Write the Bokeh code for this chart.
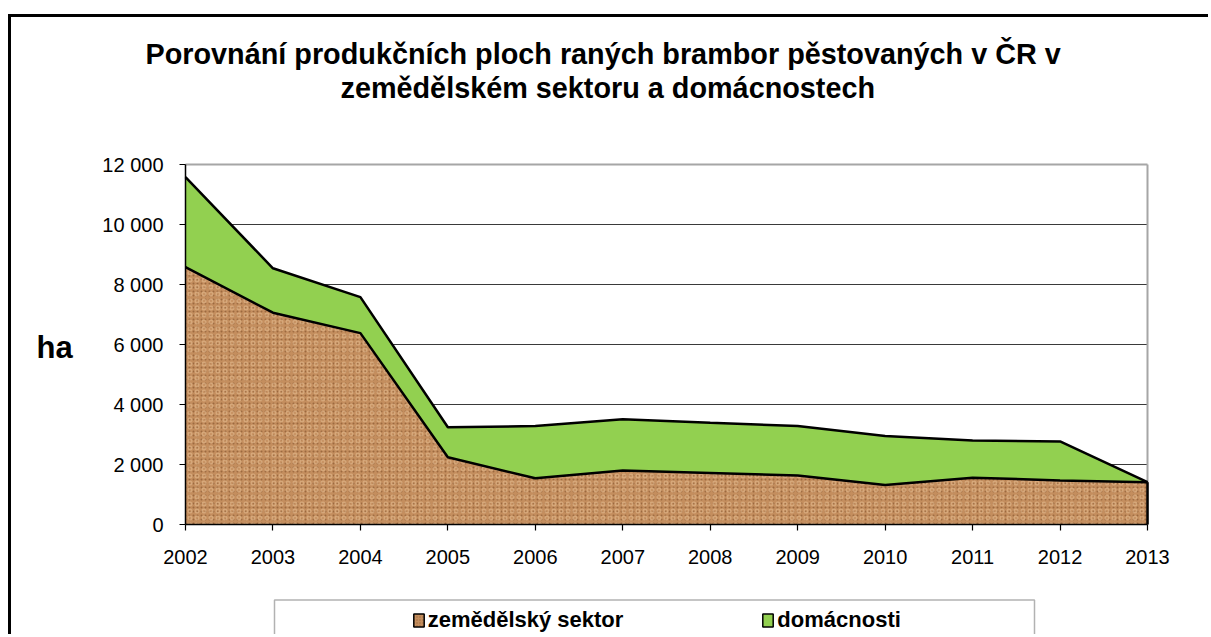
from bokeh.plotting import figure
from bokeh.models import (Range1d, FixedTicker, Title, Legend, LegendItem, Label,
                          BoxAnnotation, ColumnDataSource)
from bokeh.embed import file_html
from bokeh.resources import INLINE

# ---------------- data ----------------
years = [2002, 2003, 2004, 2005, 2006, 2007, 2008, 2009, 2010, 2011, 2012, 2013]
zemedelsky_sektor = [8580, 7060, 6380, 2240, 1540, 1800, 1720, 1630, 1320, 1560, 1470, 1410]
domacnosti = [3000, 1480, 1200, 1000, 1740, 1710, 1670, 1650, 1630, 1240, 1300, 0]
series_names = ["zemědělský sektor", "domácnosti"]
y_ticks = [0, 2000, 4000, 6000, 8000, 10000, 12000]
y_tick_labels = ["0", "2 000", "4 000", "6 000", "8 000", "10 000", "12 000"]
x_tick_labels = [str(y) for y in years]
title_lines = ["Porovnání produkčních ploch raných brambor pěstovaných v ČR v",
               "zemědělském sektoru a domácnostech"]
y_label = "ha"

# ---------------- style / layout ----------------
FONT = "Liberation Sans"
BROWN = "#C48E5E"
BROWN_DARK = "#74431F"
BROWN_LIGHT = "#E6BE91"
GREEN = "#92D050"
FRAME_GRAY = "#A6A6A6"
GRID_GRAY = "#3A3A3A"

OX, OY = 11, 17                 # canvas origin on the page (after CSS margin+border)
W, H = 1200, 620
FL, FR, FT, FB = 185, 1147, 164, 524   # plot-area edges in page pixels
PAGE_RIGHT, PAGE_BOTTOM = OX + W, OY + H
FRAME_TOP = 146                 # drawing frame starts a bit above the plot area

x0, x1 = years[0], years[-1]
ymin, ymax = y_ticks[0], y_ticks[-1]


def X(px):   # page pixel -> data x
    return x0 + (px - FL) * (x1 - x0) / (FR - FL)


def Y(py):   # page pixel -> data y
    return ymin + (FB - py) * (ymax - ymin) / (FB - FT)


total = [a + b for a, b in zip(zemedelsky_sektor, domacnosti)]
src = ColumnDataSource(dict(x=years, zem=zemedelsky_sektor, tot=total,
                            zero=[0] * len(years)))
grid_src = ColumnDataSource(dict(y=y_ticks[1:-1]))

# the frame covers the canvas below the title; axes sit at fixed locations
p = figure(width=W, height=H,
           x_range=Range1d(X(OX), X(PAGE_RIGHT)), y_range=Range1d(Y(PAGE_BOTTOM), Y(FRAME_TOP)),
           output_backend="svg", toolbar_location=None,
           min_border_left=0, min_border_right=0,
           min_border_top=FRAME_TOP - OY, min_border_bottom=0)
p.title = None
p.styles = {"margin-left": "8px", "margin-top": "14px",
            "border-left": "3px solid black", "border-top": "3px solid black"}
p.background_fill_color = "white"
p.border_fill_color = "white"
p.outline_line_color = None
p.xgrid.visible = False
p.ygrid.visible = False

# horizontal grid lines limited to the plot area
p.segment(x0=x0, x1=x1, y0="y", y1="y", source=grid_src,
          line_color=GRID_GRAY, line_width=1)
# plot-area frame lines (top and right, light gray)
p.segment(x0=[x0, x1], y0=[ymax, ymin], x1=[x1, x1], y1=[ymax, ymax],
          line_color=FRAME_GRAY, line_width=2)

# axes
p.yaxis.ticker = FixedTicker(ticks=y_ticks)
p.yaxis.bounds = (ymin, ymax)
p.yaxis.fixed_location = x0
p.yaxis.major_label_overrides = dict(zip(y_ticks, y_tick_labels))
p.xaxis.ticker = FixedTicker(ticks=years)
p.xaxis.bounds = (x0, x1)
p.xaxis.fixed_location = ymin
p.xaxis.major_label_overrides = dict(zip(years, x_tick_labels))
for ax in (p.xaxis[0], p.yaxis[0]):
    ax.axis_line_color = "black"
    ax.axis_line_width = 1.5
    ax.major_tick_line_color = "black"
    ax.major_tick_line_width = 1.2
    ax.major_tick_in = 0
    ax.major_tick_out = 6
    ax.minor_tick_line_color = None
    ax.major_label_text_font = FONT
    ax.major_label_text_font_size = "20px"
    ax.major_label_text_color = "black"
p.yaxis.major_label_standoff = 16
p.xaxis.major_label_standoff = 19

# areas
p.varea(x="x", y1="zero", y2="zem", source=src, fill_color=BROWN,
        hatch_pattern="dot", hatch_color=BROWN_DARK, hatch_alpha=0.5,
        hatch_scale=4, hatch_weight=1.3)
p.varea(x="x", y1="zero", y2="zem", source=src, fill_alpha=0,
        hatch_pattern="ring", hatch_color=BROWN_LIGHT, hatch_alpha=0.55,
        hatch_scale=7, hatch_weight=1.5)
p.varea(x="x", y1="zem", y2="tot", source=src, fill_color=GREEN)
p.line(x="x", y="zem", source=src, line_color="black", line_width=2.5)
p.line(x="x", y="tot", source=src, line_color="black", line_width=2.5)
p.segment(x0=[years[-1]], y0=[0], x1=[years[-1]], y1=[zemedelsky_sektor[-1]],
          line_color="black", line_width=2.5)

# y axis label
p.add_layout(Label(x=X(36), y=Y(347), text=y_label, text_align="left",
                   text_baseline="alphabetic", text_font=FONT, text_font_size="31px",
                   text_font_style="bold", text_color="black"))

# title: stacked Titles in the "above" panel (first added = nearest the frame)
TFS = 28.8
p.add_layout(Title(text=" ", text_font_size="1px", standoff=58 - (FT - FRAME_TOP)), "above")
p.add_layout(Title(text=title_lines[1], align="left", offset=340 - OX, vertical_align="bottom",
                   standoff=0, text_font=FONT, text_font_size=f"{TFS}px",
                   text_font_style="bold", text_color="black"), "above")
p.add_layout(Title(text=title_lines[0], align="left", offset=145 - OX, vertical_align="bottom",
                   standoff=0, text_font=FONT, text_font_size=f"{TFS}px",
                   text_font_style="bold", text_color="black"), "above")

# legend box
p.add_layout(BoxAnnotation(left=X(274), right=X(1034), top=Y(599.5), bottom=Y(PAGE_BOTTOM + 20),
                           fill_alpha=0, line_color="black", line_width=1.5))

# legend swatch proxies (NaN geometry: nothing drawn in the plot itself)
nan = float("nan")
r1 = p.quad(left=[nan], right=[nan], top=[nan], bottom=[nan], fill_color=BROWN,
            hatch_pattern="dot", hatch_color=BROWN_DARK, hatch_alpha=0.5,
            hatch_scale=3, line_color="black", line_width=1.5)
r2 = p.quad(left=[nan], right=[nan], top=[nan], bottom=[nan], fill_color=GREEN,
            line_color="black", line_width=1.5)
legend = Legend(items=[LegendItem(label=series_names[0], renderers=[r1]),
                       LegendItem(label=series_names[1], renderers=[r2])],
                orientation="horizontal",
                location=(411.7 - OX, (PAGE_BOTTOM - 620) - 12.7),
                padding=0, margin=0, spacing=138, label_standoff=3,
                glyph_width=13, glyph_height=16,
                label_text_font=FONT, label_text_font_size="22px",
                label_text_font_style="bold", label_text_color="black",
                border_line_alpha=0, background_fill_alpha=0)
p.add_layout(legend, "center")

open("out.html", "w").write(file_html(p, INLINE))
